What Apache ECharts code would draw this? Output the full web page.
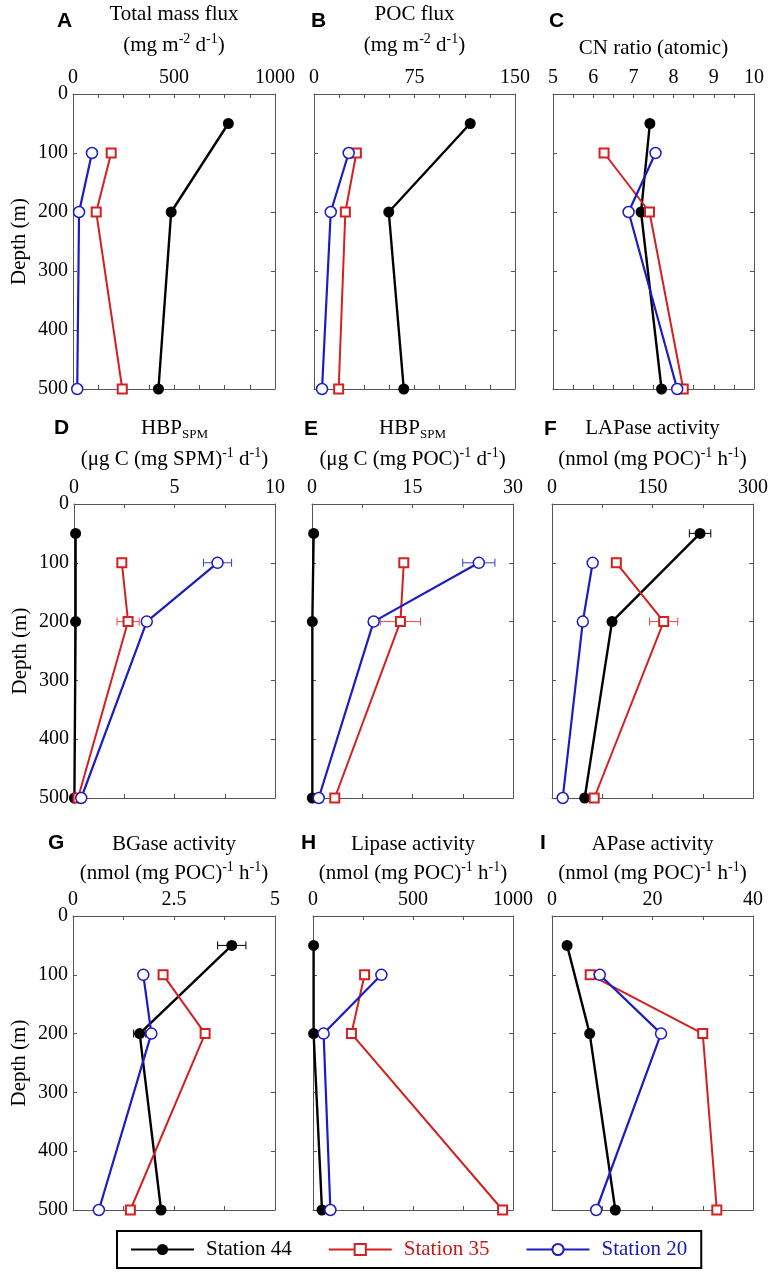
<!DOCTYPE html>
<html><head><meta charset="utf-8">
<script src="https://cdn.jsdelivr.net/npm/echarts@6/dist/echarts.min.js"></script>
<style>html,body{margin:0;padding:0;background:#fff}#c{width:775px;height:1277px}</style>
</head><body><div id="c"></div>
<script>
// ---------- DATA ----------
const depth44 = [50, 200, 500];
const depth35 = [100, 200, 500];
const depth20 = [100, 200, 500];
const stationNames = ['Station 44', 'Station 35', 'Station 20'];

// A Total mass flux (mg m-2 d-1)
const massFlux44 = [769, 486, 423];
const massFlux35 = [189, 115, 244];
const massFlux20 = [94, 30, 21];
// B POC flux
const pocFlux44 = [116.6, 55.8, 67];
const pocFlux35 = [31.6, 23.4, 18.4];
const pocFlux20 = [25.9, 12.5, 6];
// C CN ratio
const cn44 = [7.41, 7.19, 7.70];
const cn35 = [6.27, 7.40, 8.24];
const cn20 = [7.55, 6.88, 8.09];
// D HBP per SPM
const hbpSpm44 = [0.08, 0.08, 0.02];
const hbpSpm35 = [2.38, 2.69, 0.2];
const hbpSpm20 = [7.14, 3.62, 0.36];
const hbpSpm44Err = [0, 0, 0];
const hbpSpm35Err = [0, 0.55, 0];
const hbpSpm20Err = [0.7, 0, 0];
// E HBP per POC
const hbpPoc44 = [0.25, 0.05, 0.05];
const hbpPoc35 = [13.7, 13.2, 3.4];
const hbpPoc20 = [24.9, 9.2, 1.0];
const hbpPoc44Err = [0, 0, 0];
const hbpPoc35Err = [0, 3, 0];
const hbpPoc20Err = [2.4, 0.7, 0];
// F LAPase
const lap44 = [221, 89.6, 48.8];
const lap35 = [96, 166.7, 63];
const lap20 = [60.7, 46, 16];
const lap44Err = [16, 0, 0];
const lap35Err = [0, 21, 0];
const lap20Err = [4, 0, 0];
// G BGase
const bg44 = [3.93, 1.65, 2.18];
const bg35 = [2.23, 3.27, 1.42];
const bg20 = [1.74, 1.94, 0.64];
const bg44Err = [0.35, 0.15, 0];
const bg35Err = [0, 0, 0];
const bg20Err = [0, 0, 0];
// H Lipase
const lip44 = [3, 3, 45];
const lip35 = [258, 192, 948];
const lip20 = [342, 53, 87];
// I APase
const ap44 = [3.0, 7.5, 12.6];
const ap35 = [7.6, 30.0, 32.8];
const ap20 = [9.5, 21.7, 8.8];

// axis ranges: [min, max, label step, minor split]
const xRanges = [
  [0, 1000, 500, 4], [0, 150, 75, 4], [5, 10, 1, 2],
  [0, 10, 5, 2], [0, 30, 15, 2], [0, 300, 150, 2],
  [0, 5, 2.5, 2], [0, 1000, 500, 2], [0, 40, 20, 2]
];
const depthTicks = [0, 500, 100];

const panelLetters = ['A','B','C','D','E','F','G','H','I'];
const titleLine1 = ['Total mass flux', 'POC flux', '', '{n|HBP}{sm|SPM}', '{n|HBP}{sm|SPM}', 'LAPase activity', 'BGase activity', 'Lipase activity', 'APase activity'];
const unitPoc = '{n|(nmol (mg POC)}{s|-1}{n| h}{s|-1}{n|)}';
const titleLine2 = [
  '{n|(mg m}{s|-2}{n| d}{s|-1}{n|)}',
  '{n|(mg m}{s|-2}{n| d}{s|-1}{n|)}',
  '{n|CN ratio (atomic)}',
  '{n|(\u03bcg C (mg SPM)}{s|-1}{n| d}{s|-1}{n|)}',
  '{n|(\u03bcg C (mg POC)}{s|-1}{n| d}{s|-1}{n|)}',
  unitPoc, unitPoc, unitPoc, unitPoc
];

const panelValues = [
  [massFlux44, massFlux35, massFlux20, null],
  [pocFlux44, pocFlux35, pocFlux20, null],
  [cn44, cn35, cn20, null],
  [hbpSpm44, hbpSpm35, hbpSpm20, [hbpSpm44Err, hbpSpm35Err, hbpSpm20Err]],
  [hbpPoc44, hbpPoc35, hbpPoc20, [hbpPoc44Err, hbpPoc35Err, hbpPoc20Err]],
  [lap44, lap35, lap20, [lap44Err, lap35Err, lap20Err]],
  [bg44, bg35, bg20, [bg44Err, bg35Err, bg20Err]],
  [lip44, lip35, lip20, null],
  [ap44, ap35, ap20, null]
];

// ---------- LAYOUT ----------
const gridPos = [
  [73, 94, 202, 295], [314, 94, 201, 295], [553, 94, 201, 295],
  [74, 504, 201, 294], [312, 504, 201, 294], [552, 504, 201, 294],
  [73, 916, 202, 294], [313, 916, 200, 294], [552, 916, 201, 294]
];
const rowTitleY = [[14, 45], [428, 459], [844, 873]];
const letterPos = [[57, 21], [311, 21], [549, 21], [54, 428], [304, 429], [544, 429], [48, 843], [301, 843], [540, 843]];

const FONT = 'Liberation Serif, Times New Roman, serif';
const SANS = 'Liberation Sans, Arial, sans-serif';
const AX = '#555';
const C44 = '#000000', C35 = '#d42020', C20 = '#1c1cc4';
const errColors = ['#000000', '#e04848', '#3a3ad0'];

const grids = [], xAxes = [], yAxes = [], series = [], graphics = [];
const axLine = { show: true, onZero: false, lineStyle: { color: AX, width: 1 } };
const tick = { show: true, inside: true, length: 4, lineStyle: { color: AX, width: 1 } };

function errRender(color) {
  return function (params, api) {
    const x = api.value(0), y = api.value(1), e = api.value(2);
    const a = api.coord([x - e, y]), b = api.coord([x + e, y]);
    const st = { stroke: color, lineWidth: 1 };
    const h = 4;
    return { type: 'group', children: [
      { type: 'line', shape: { x1: a[0], y1: a[1], x2: b[0], y2: b[1] }, style: st },
      { type: 'line', shape: { x1: a[0], y1: a[1] - h, x2: a[0], y2: a[1] + h }, style: st },
      { type: 'line', shape: { x1: b[0], y1: b[1] - h, x2: b[0], y2: b[1] + h }, style: st }
    ]};
  };
}

panelValues.forEach((pv, i) => {
  const g = gridPos[i];
  const r = xRanges[i];
  const col0 = i % 3 === 0;
  grids.push({ left: g[0], top: g[1], width: g[2], height: g[3], containLabel: false, outerBoundsMode: 'none', show: false });
  const xBase = {
    gridIndex: i, type: 'value', min: r[0], max: r[1], interval: r[2],
    axisLine: axLine, axisTick: tick,
    minorTick: { show: true, splitNumber: r[3], length: 4, lineStyle: { color: AX, width: 1 } },
    splitLine: { show: false }, minorSplitLine: { show: false }
  };
  xAxes.push(Object.assign({}, xBase, { position: 'top',
    axisLabel: { show: true, margin: 6, fontSize: 20, color: '#000', fontFamily: FONT, formatter: v => String(v) } }));
  xAxes.push(Object.assign({}, xBase, { position: 'bottom', axisLabel: { show: false } }));
  const yBase = {
    gridIndex: i, type: 'value', inverse: true, min: depthTicks[0], max: depthTicks[1], interval: depthTicks[2],
    axisLine: axLine, axisTick: tick, splitLine: { show: false }
  };
  yAxes.push(Object.assign({}, yBase, { position: 'left',
    axisLabel: { show: col0, margin: 5, fontSize: 20, color: '#000', fontFamily: FONT, formatter: v => String(v) },
    name: col0 ? 'Depth (m)' : '', nameLocation: 'middle', nameGap: 43,
    nameTextStyle: { fontSize: 21, color: '#000', fontFamily: FONT } }));
  yAxes.push(Object.assign({}, yBase, { position: 'right', axisLabel: { show: false } }));

  const xi = 2 * i, yi = 2 * i;
  const depths = [depth44, depth35, depth20];
  if (pv[3]) {
    pv[3].forEach((errs, s) => {
      const d = [];
      errs.forEach((e, k) => { if (e > 0) d.push([pv[s][k], depths[s][k], e]); });
      if (d.length) series.push({ type: 'custom', name: 'err' + i + '_' + s, xAxisIndex: xi, yAxisIndex: yi,
        data: d, renderItem: errRender(errColors[s]), z: 1, silent: true, clip: false, animation: false });
    });
  }
  series.push({ type: 'line', name: stationNames[0], xAxisIndex: xi, yAxisIndex: yi,
    data: pv[0].map((v, k) => [v, depth44[k]]), symbol: 'circle', symbolSize: 11, clip: false,
    itemStyle: { color: C44 }, lineStyle: { color: C44, width: 2.4 }, z: 3, animation: false });
  series.push({ type: 'line', name: stationNames[1], xAxisIndex: xi, yAxisIndex: yi,
    data: pv[1].map((v, k) => [v, depth35[k]]), symbol: 'rect', symbolSize: 9, clip: false,
    itemStyle: { color: '#fff', borderColor: C35, borderWidth: 2 }, lineStyle: { color: C35, width: 2 }, z: 3, animation: false });
  series.push({ type: 'line', name: stationNames[2], xAxisIndex: xi, yAxisIndex: yi,
    data: pv[2].map((v, k) => [v, depth20[k]]), symbol: 'circle', symbolSize: 11, clip: false,
    itemStyle: { color: '#fff', borderColor: C20, borderWidth: 1.5 }, lineStyle: { color: C20, width: 2.2 }, z: 3, animation: false });

  const cx = g[0] + g[2] / 2;
  const ty = rowTitleY[Math.floor(i / 3)];
  const rich = {
    n: { fontSize: 21, fontFamily: FONT, color: '#000', lineHeight: 26 },
    s: { fontSize: 14, fontFamily: FONT, color: '#000', lineHeight: 16, verticalAlign: 'top' },
    sm: { fontSize: 13, fontFamily: FONT, color: '#000', lineHeight: 23, verticalAlign: 'bottom' }
  };
  if (titleLine1[i]) {
    const t1 = titleLine1[i].indexOf('{') === 0 ? titleLine1[i] : '{n|' + titleLine1[i] + '}';
    graphics.push({ type: 'text', x: cx, y: ty[0], silent: true,
      style: { text: t1, rich: rich, align: 'center', verticalAlign: 'middle', fontFamily: FONT, fontSize: 21, fill: '#000' } });
  }
  graphics.push({ type: 'text', x: cx, y: ty[1] + (titleLine1[i] ? 0 : 3), silent: true,
    style: { text: titleLine2[i], rich: rich, align: 'center', verticalAlign: 'middle', fontFamily: FONT, fontSize: 21, fill: '#000' } });
  const lp = letterPos[i];
  graphics.push({ type: 'text', x: lp[0], y: lp[1], silent: true,
    style: { text: panelLetters[i], align: 'left', verticalAlign: 'middle', fontFamily: SANS, fontWeight: 'bold', fontSize: 21, fill: '#000' } });
});

const chart = echarts.init(document.getElementById('c'), null, { renderer: 'canvas' });
chart.setOption({
  animation: false,
  backgroundColor: '#fff',
  textStyle: { fontFamily: FONT },
  grid: grids,
  xAxis: xAxes,
  yAxis: yAxes,
  series: series,
  legend: {
    left: 117, top: 1231, orient: 'horizontal',
    padding: [8, 14, 8, 13], itemGap: 36, itemWidth: 63, itemHeight: 14,
    borderColor: '#000', borderWidth: 2, backgroundColor: '#fff',
    textStyle: { fontFamily: FONT, fontSize: 21, padding: [0, 0, 0, 7] },
    selectedMode: false,
    data: [
      { name: stationNames[0], textStyle: { color: C44 } },
      { name: stationNames[1], textStyle: { color: '#c81818' } },
      { name: stationNames[2], textStyle: { color: '#1818b4' } }
    ]
  },
  graphic: { elements: graphics }
});
</script>
</body></html>
